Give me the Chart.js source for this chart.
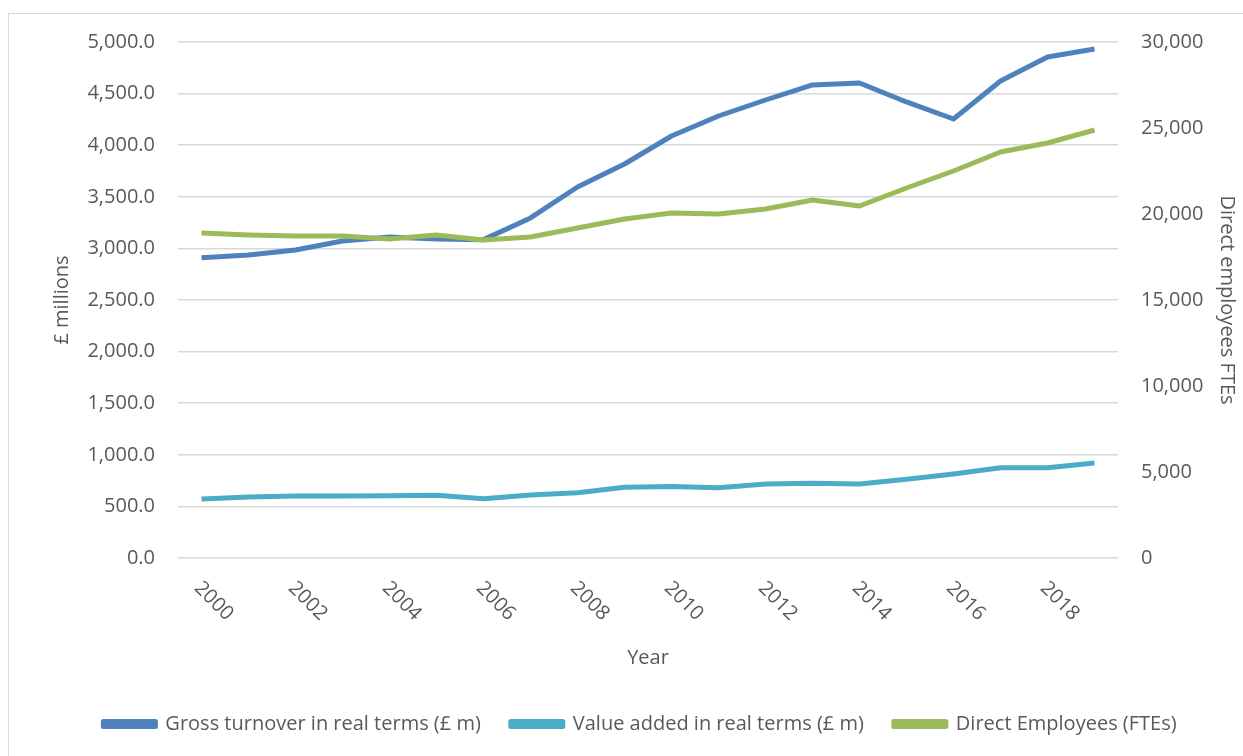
<!DOCTYPE html>
<html lang="en">
<head>
<meta charset="utf-8">
<title>Gross turnover, value added and direct employees</title>
<script src="https://cdn.jsdelivr.net/npm/chart.js@4.4.1/dist/chart.umd.min.js"></script>
<style>
  html, body { margin: 0; padding: 0; background: #fff; overflow: hidden; }
  #wrap { position: relative; width: 1243px; height: 756px; overflow: hidden; }
  canvas { display: block; }
</style>
</head>
<body>
<div id="wrap"><canvas id="chart" width="1280" height="756"></canvas></div>
<script>
// --- data ---
const YEARS = ['2000', '2001', '2002', '2003', '2004', '2005', '2006', '2007', '2008', '2009',
  '2010', '2011', '2012', '2013', '2014', '2015', '2016', '2017', '2018', '2019'];

const GROSS_TURNOVER = [2910, 2936, 2985, 3072, 3110, 3091, 3085, 3295, 3595, 3818,
  4089, 4283, 4438, 4584, 4603, 4419, 4254, 4622, 4855, 4932];

const VALUE_ADDED = [572, 591, 601, 601, 603, 607, 575, 610, 633, 685,
  694, 681, 717, 724, 717, 762, 814, 875, 875, 921];

const EMPLOYEES = [18895, 18779, 18721, 18721, 18547, 18779, 18488, 18663, 19186, 19709,
  20058, 20000, 20291, 20814, 20465, 21512, 22500, 23605, 24128, 24884];

const SERIES_LABELS = ['Gross turnover in real terms (£ m)', 'Value added in real terms (£ m)', 'Direct Employees (FTEs)'];
const COLORS = ['#4F81BD', '#4BACC6', '#9BBB59'];

const TEXT = '#595959';
const GRID = '#d9d9d9';
const FONT = '"Open Sans", "Noto Sans", sans-serif';

// outer frame of the chart object
const framePlugin = {
  id: 'frame',
  beforeDraw(chart) {
    const ctx = chart.ctx;
    ctx.save();
    ctx.strokeStyle = GRID;
    ctx.lineWidth = 1;
    ctx.strokeRect(8.5, 13.5, 1300, 800);
    ctx.restore();
  }
};

// x labels rotated 45° clockwise, every second year (Excel style)
const xLabelsPlugin = {
  id: 'xLabels',
  afterDraw(chart) {
    const xs = chart.scales.x;
    const ctx = chart.ctx;
    ctx.save();
    ctx.font = '20px ' + FONT;
    ctx.fillStyle = TEXT;
    ctx.textAlign = 'left';
    ctx.textBaseline = 'middle';
    YEARS.forEach((y, i) => {
      if (i % 2) return;
      const px = xs.getPixelForValue(i);
      ctx.save();
      ctx.translate(px - 4, xs.top + 27);
      ctx.rotate(Math.PI / 4);
      ctx.fillText(y, 0, 0);
      ctx.restore();
    });
    ctx.restore();
  }
};

const fmt1 = v => v.toLocaleString('en-GB', { minimumFractionDigits: 1, maximumFractionDigits: 1 });
const fmt0 = v => v.toLocaleString('en-GB');

const lineDs = (label, data, color, axis, order) => ({
  label, data,
  borderColor: color,
  backgroundColor: color,
  borderWidth: 5,
  pointRadius: 0,
  pointHoverRadius: 0,
  tension: 0,
  fill: false,
  borderJoinStyle: 'round',
  borderCapStyle: 'butt',
  yAxisID: axis,
  order
});

new Chart(document.getElementById('chart'), {
  type: 'line',
  data: {
    labels: YEARS,
    datasets: [
      lineDs(SERIES_LABELS[0], GROSS_TURNOVER, COLORS[0], 'y', 2),
      lineDs(SERIES_LABELS[1], VALUE_ADDED, COLORS[1], 'y', 1),
      lineDs(SERIES_LABELS[2], EMPLOYEES, COLORS[2], 'y1', 0),
    ],
  },
  options: {
    responsive: false,
    devicePixelRatio: 1,
    animation: false,
    layout: { padding: { top: 42, bottom: 12, left: 0, right: 0 } },
    plugins: {
      tooltip: { enabled: false },
      legend: {
        position: 'bottom',
        labels: {
          color: TEXT,
          font: { family: FONT, size: 20 },
          boxWidth: 52,
          boxHeight: 5,
          padding: 30,
          sort: (a, b) => a.datasetIndex - b.datasetIndex,
        },
      },
    },
    scales: {
      x: {
        offset: true,
        grid: { display: false },
        border: { display: false },
        ticks: { display: false },
        title: {
          display: true, text: 'Year', color: TEXT,
          font: { family: FONT, size: 20 },
          padding: { top: 0, bottom: 14 },
        },
        afterFit(s) { s.height = 126; },
      },
      y: {
        position: 'left',
        min: 0, max: 5000,
        ticks: { stepSize: 500, color: TEXT, font: { family: FONT, size: 20 }, padding: 23, callback: fmt1 },
        grid: { color: GRID, lineWidth: 1.5, drawTicks: false },
        border: { display: false },
        title: {
          display: true, text: '£ millions', color: TEXT,
          font: { family: FONT, size: 20 },
          padding: { top: 50, bottom: 0 },
        },
        afterFit(s) { s.width = 178; },
      },
      y1: {
        position: 'right',
        min: 0, max: 30000,
        ticks: { stepSize: 5000, color: TEXT, font: { family: FONT, size: 20 }, padding: 23, callback: fmt0 },
        grid: { drawOnChartArea: false, drawTicks: false },
        border: { display: false },
        title: {
          display: true, text: 'Direct employees FTEs', color: TEXT,
          font: { family: FONT, size: 20 },
          padding: { top: 41, bottom: 0 },
        },
        afterFit(s) { s.width = 162; },
      },
    },
  },
  plugins: [framePlugin, xLabelsPlugin],
});
</script>
</body>
</html>
